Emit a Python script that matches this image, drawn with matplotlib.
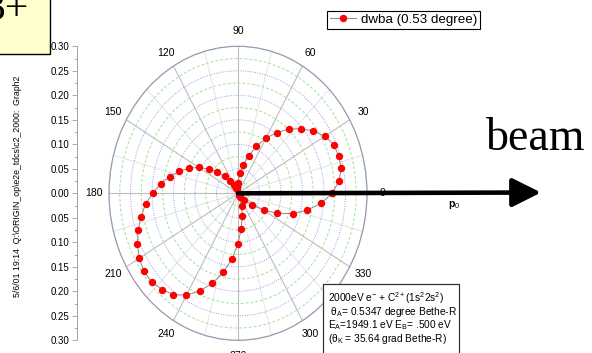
import numpy as np
import matplotlib
matplotlib.use('Agg')
import matplotlib.pyplot as plt
from matplotlib.ticker import FixedLocator, MultipleLocator
from matplotlib.patches import Rectangle

plt.rcParams['font.family'] = ['Liberation Sans', 'DejaVu Sans']
plt.rcParams['mathtext.fontset'] = 'custom'
plt.rcParams['mathtext.rm'] = 'Liberation Sans'
plt.rcParams['mathtext.it'] = 'Liberation Sans:italic'
plt.rcParams['mathtext.bf'] = 'Liberation Sans:bold'

# ---- data ----
theta_deg = list(range(0, 360, 6))
r_values = [0.219, 0.236, 0.246, 0.246, 0.244, 0.233, 0.2165, 0.197, 0.1765, 0.153,
            0.130, 0.105, 0.0805, 0.060, 0.042, 0.022, 0.0147, 0.0128, 0.010, 0.012,
            0.0197, 0.0299, 0.0465, 0.0645, 0.084, 0.1058, 0.1252, 0.1446, 0.1625, 0.1812,
            0.1988, 0.2162, 0.2309, 0.2443, 0.256, 0.2651, 0.2705, 0.2702, 0.2643, 0.2556,
            0.2399, 0.218, 0.1931, 0.1649, 0.1354, 0.1027, 0.0725, 0.0467, 0.0268, 0.0092,
            0.004, 0.004, 0.008, 0.0203, 0.0412, 0.0688, 0.1005, 0.1342, 0.1645, 0.1947]
series_label = 'dwba (0.53 degree)'
angle_ticks = list(range(0, 360, 30))
angle_labels = [str(a) for a in angle_ticks]
r_ticks = [-0.30, -0.25, -0.20, -0.15, -0.10, -0.05, 0.0, 0.05, 0.10, 0.15, 0.20, 0.25, 0.30]
info_lines = [r'2000eV e$^{-}$ + C$^{2+}$(1s$^{2}$2s$^{2}$)',
              r' θ$_{\mathrm{A}}$= 0.5347 degree Bethe-R',
              r'E$_{\mathrm{A}}$=1949.1 eV E$_{\mathrm{B}}$= .500 eV',
              r'(θ$_{\mathrm{K}}$ = 35.64 grad Bethe-R)']
side_text = r'5/6/01 19:14  Q:\ORIGIN_op\e2e_tdcs\c2_2000:  Graph2'

W, H = 592, 353
fig = plt.figure(figsize=(W / 100, H / 100), dpi=100)
fig.patch.set_facecolor('white')


def fx(px):
    return px / W


def fy(py):
    return 1 - py / H


cx, cy, rx, ry = 238, 193.3, 129, 147
ax = fig.add_axes([fx(cx - rx), fy(cy + ry), 2 * rx / W, 2 * ry / H], projection='polar')
ax.set_aspect('auto')

th = np.deg2rad(theta_deg + [theta_deg[0] + 360])
rr = r_values + [r_values[0]]
ax.plot(th, rr, color='#8a8a8a', lw=0.7, marker='o', ms=4.3, mfc='#ff0000', mec='#ff0000',
        label=series_label, zorder=5)

ax.set_ylim(0, 0.3)
ax.set_yticks(np.arange(0.05, 0.301, 0.05))
ax.set_yticklabels([])
ax.yaxis.set_minor_locator(FixedLocator(np.arange(0.025, 0.3, 0.05)))
ax.set_xticks(np.deg2rad(angle_ticks))
ax.set_xticklabels(angle_labels)
ax.xaxis.set_minor_locator(FixedLocator(np.deg2rad(np.arange(15, 360, 30))))
ax.grid(which='major', axis='x', color='#bdbdbd', lw=0.8, ls='-')
ax.grid(which='minor', axis='x', color='#e4e4e4', lw=0.7, ls='-')
ax.grid(which='major', axis='y', color='#9a9ae6', lw=0.7, ls=(0, (1, 1.5)))
ax.grid(which='minor', axis='y', color='#9fe29f', lw=0.7, ls=(0, (3, 2)))
ax.tick_params(which='both', length=0)
ax.tick_params(axis='x', labelsize=7.5, pad=4)
ax.spines['polar'].set_color('#9a9ab0')
ax.spines['polar'].set_linewidth(0.9)

ax.legend(loc='upper left', bbox_to_anchor=(fx(327), fy(11)), bbox_transform=fig.transFigure,
          fontsize=9.6, frameon=True, fancybox=False, edgecolor='black', framealpha=1,
          borderpad=0.2, handlelength=2.0, handletextpad=0.35, borderaxespad=0, numpoints=1)
ax.get_legend().get_frame().set_linewidth(0.8)

# beam arrow from the polar origin
ax.annotate('', xy=(fx(541), fy(192.5)), xycoords='figure fraction', xytext=(0, 0),
            textcoords='data', annotation_clip=False,
            arrowprops=dict(arrowstyle='-|>,head_length=0.8,head_width=0.4', lw=3.3,
                            color='black', mutation_scale=22, shrinkA=0, shrinkB=0),
            zorder=10)

# left linear scale
lax = fig.add_axes([fx(77), fy(cy + ry), 0.001, 2 * ry / H])
lax.patch.set_alpha(0)
for s in ['right', 'top', 'bottom']:
    lax.spines[s].set_visible(False)
lax.spines['left'].set_color('#a0a0a0')
lax.spines['left'].set_linewidth(0.7)
lax.set_xticks([])
lax.set_ylim(-0.3, 0.3)
lax.set_yticks(r_ticks)
lax.set_yticklabels(['%.2f' % abs(v) for v in r_ticks])
lax.yaxis.set_minor_locator(MultipleLocator(0.025))
lax.tick_params(axis='y', which='major', direction='out', length=3.5, width=0.6,
                color='#a0a0a0', labelsize=7, pad=2)
lax.tick_params(axis='y', which='minor', direction='out', length=2, width=0.6, color='#a0a0a0')

fig.text(fx(18), fy(186), side_text, rotation=90, ha='center', va='center', fontsize=6.3)

# yellow label box
fig.add_artist(Rectangle((fx(-2), fy(54)), 52 / W, 56 / H, transform=fig.transFigure,
                         facecolor='#ffffcc', edgecolor='black', lw=1))
fig.text(fx(29), fy(20), '3+', ha='right', va='baseline', family='Liberation Serif', fontsize=30)

fig.text(fx(486), fy(150), 'beam', ha='left', va='baseline', family='Liberation Serif', fontsize=33)
fig.text(fx(448), fy(205), r'$\mathbf{p}_{0}$', ha='left', va='center', fontsize=7.5)

# info box
fig.add_artist(Rectangle((fx(323), fy(362)), (459 - 323) / W, (362 - 284) / H,
                         transform=fig.transFigure, facecolor='white', edgecolor='#333333', lw=0.9))
for i, line in enumerate(info_lines):
    fig.text(fx(328), fy(298 + 13.7 * i), line, ha='left', va='center', fontsize=7.3)

fig.savefig('out.png', dpi=100)
